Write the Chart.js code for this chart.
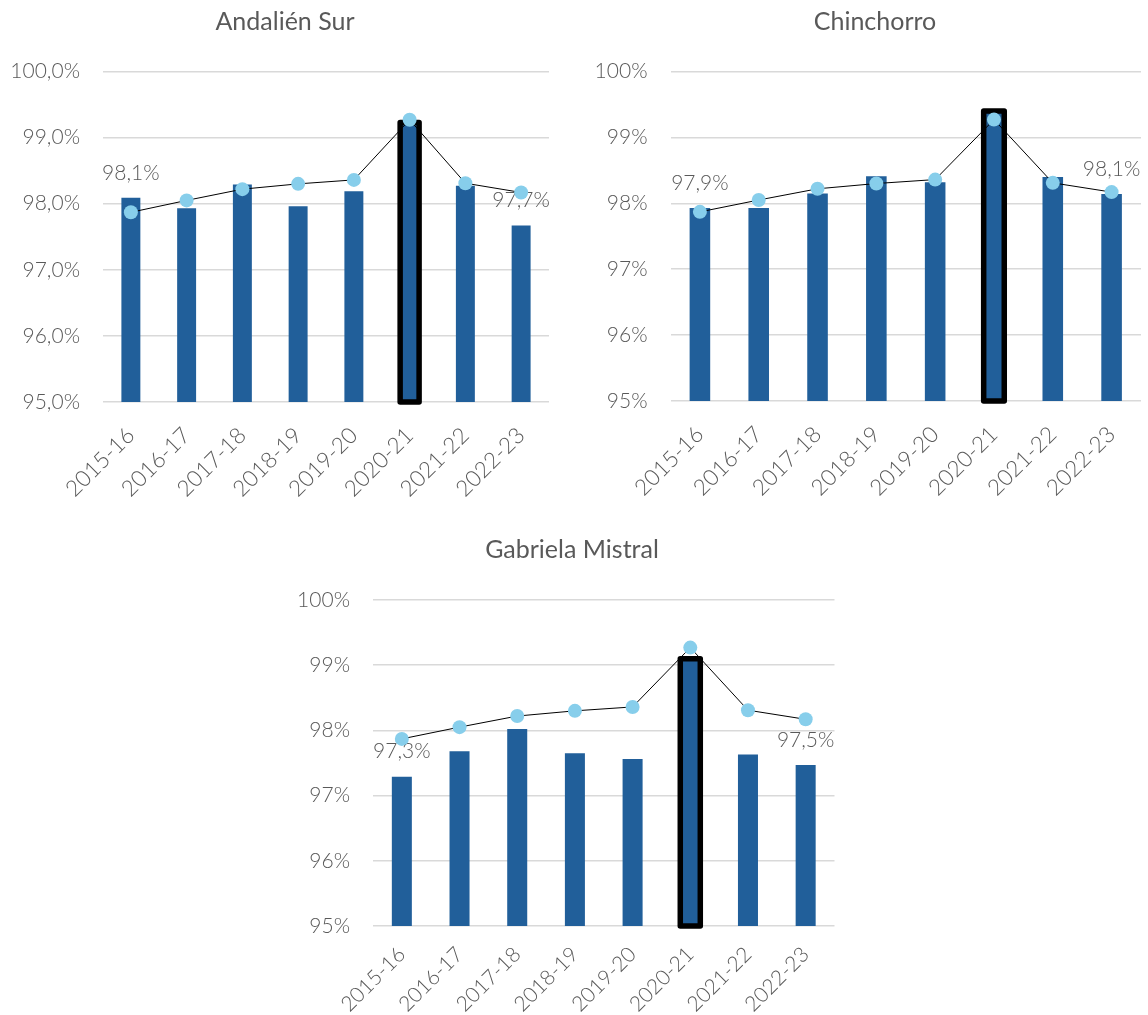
<!DOCTYPE html>
<html><head><meta charset="utf-8">
<script src="https://cdn.jsdelivr.net/npm/chart.js@4.4.1/dist/chart.umd.min.js"></script>
<style>
html,body{margin:0;padding:0;background:#fff;width:1148px;height:1015px;overflow:hidden;}
canvas{position:absolute;display:block;}
</style></head><body>
<canvas id="c1" width="570" height="500" style="left:0px;top:0px"></canvas>
<canvas id="c2" width="558" height="500" style="left:590px;top:0px"></canvas>
<canvas id="c3" width="564" height="487" style="left:290px;top:528px"></canvas>
<script>
// ---- data ----
const categories = ['2015-16','2016-17','2017-18','2018-19','2019-20','2020-21','2021-22','2022-23'];
const titles = ['Andalién Sur','Chinchorro','Gabriela Mistral'];
const andalienSur = [98.09, 97.93, 98.29, 97.96, 98.19, 99.23, 98.27, 97.67];
const chinchorro = [97.93, 97.93, 98.15, 98.41, 98.32, 99.40, 98.40, 98.14];
const gabrielaMistral = [97.29, 97.68, 98.02, 97.65, 97.56, 99.10, 97.63, 97.47];
const referenceLine = [97.87, 98.05, 98.22, 98.30, 98.36, 99.27, 98.31, 98.17];
const yMin = 95, yMax = 100, yStep = 1;
const highlightIndex = 5;
const labelledIndices = [0, 7];

// ---- styling ----
const TEXT = '#595959';
const BAR = '#215F9A';
const POINT = '#87CEEB';
const FAMILY = 'Lato, "Open Sans", sans-serif';
Chart.defaults.font.family = FAMILY;
Chart.defaults.color = TEXT;

function fmt(v, d){ return v.toFixed(d).replace('.', ',') + '%'; }

const titlePlugin = {
  id: 'centerTitle',
  afterDraw(chart, args, opts){
    const ctx = chart.ctx;
    ctx.save();
    ctx.fillStyle = TEXT;
    ctx.font = '400 25px ' + FAMILY;
    ctx.textAlign = 'center';
    ctx.textBaseline = 'middle';
    ctx.fillText(opts.text, opts.x, 22);
    ctx.restore();
  }
};

const highlightPlugin = {
  id: 'highlight',
  afterDatasetDraw(chart, args){
    const ds = chart.data.datasets[args.index];
    if (ds.type !== 'bar') return;
    const ctx = chart.ctx;
    const el = args.meta.data[highlightIndex];
    const p = el.getProps(['x','y','base','width'], true);
    const base = Math.min(p.base, chart.chartArea.bottom);
    ctx.save();
    ctx.strokeStyle = '#000';
    ctx.lineWidth = 5.5;
    ctx.lineJoin = 'round';
    ctx.strokeRect(p.x - p.width/2, p.y, p.width, base - p.y);
    ctx.fillStyle = TEXT;
    ctx.font = '300 21px ' + FAMILY;
    ctx.textAlign = 'center';
    ctx.textBaseline = 'middle';
    labelledIndices.forEach(i => {
      const e = args.meta.data[i];
      ctx.fillText(fmt(ds.data[i], 1), e.x, e.y - 25);
    });
    ctx.restore();
  }
};

function makeChart(id, title, bars, cfg){
  new Chart(document.getElementById(id), {
    data: {
      labels: categories,
      datasets: [
        { type: 'line', data: referenceLine, order: 0, borderColor: '#000', borderWidth: 1,
          pointRadius: 7, pointBackgroundColor: POINT, pointBorderWidth: 0, tension: 0 },
        { type: 'bar', data: bars, order: 1, backgroundColor: BAR,
          barPercentage: cfg.barPct, categoryPercentage: 1 }
      ]
    },
    options: {
      responsive: false, animation: false,
      layout: { padding: { left: 0, right: cfg.padR, top: cfg.top, bottom: 0 } },
      plugins: {
        legend: { display: false }, tooltip: { enabled: false },
        title: { display: false },
        centerTitle: { text: title, x: cfg.titleX }
      },
      scales: {
        x: {
          grid: { display: false }, border: { display: false },
          ticks: { maxRotation: 45, minRotation: 45, font: { size: cfg.xFont, weight: 300 }, color: TEXT, padding: cfg.xPad },
          afterFit(s){ s.height = cfg.xh; }
        },
        y: {
          min: yMin, max: yMax,
          grid: { color: '#D9D9D9', lineWidth: 1.5, drawTicks: false },
          border: { display: false },
          ticks: { stepSize: yStep, font: { size: 21, weight: 300 }, color: TEXT, padding: 23,
            callback: v => fmt(v, cfg.dec) },
          afterFit(s){ s.width = cfg.yw; }
        }
      }
    },
    plugins: [highlightPlugin, titlePlugin]
  });
}

makeChart('c1', titles[0], andalienSur, { padR: 21, yw: 103, xh: 98, top: 71.5, titleX: 285, barPct: 0.34, dec: 1, xFont: 22.5, xPad: 12 });
makeChart('c2', titles[1], chinchorro, { padR: 5.5, yw: 80.5, xh: 99, top: 71.5, titleX: 285, barPct: 0.35, dec: 0, xFont: 22.5, xPad: 12 });
makeChart('c3', titles[2], gabrielaMistral, { padR: 19.5, yw: 83, xh: 89, top: 72, titleX: 282, barPct: 0.347, dec: 0, xFont: 21, xPad: 8 });
</script>
</body></html>
